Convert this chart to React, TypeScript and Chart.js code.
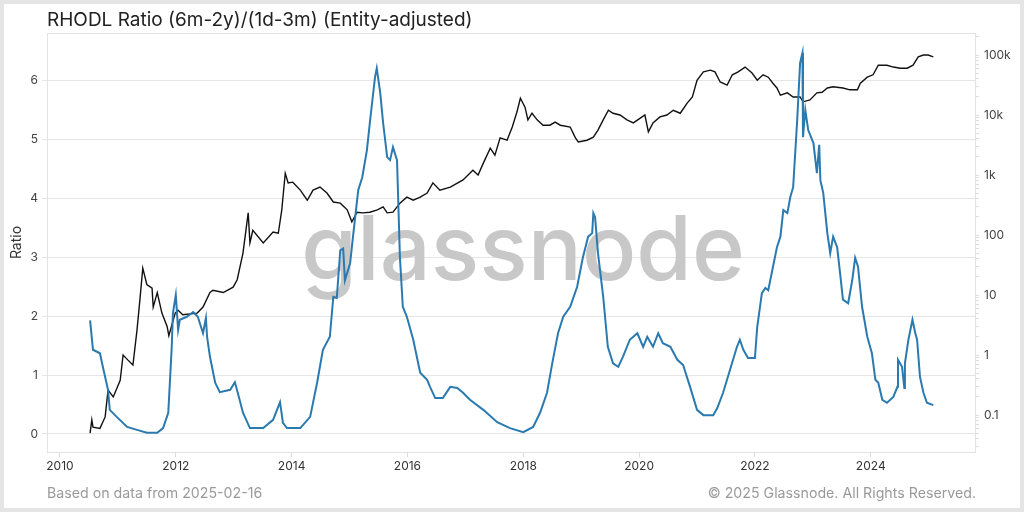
import { useEffect, useRef } from "react";
import { Chart, registerables } from "chart.js";
Chart.register(...registerables);

const chartTitle = "RHODL Ratio (6m-2y)/(1d-3m) (Entity-adjusted)";
const footerLeft = "Based on data from 2025-02-16";
const footerRight = "© 2025 Glassnode. All Rights Reserved.";
const watermark = "glassnode";

const yearTicks = [2010, 2012, 2014, 2016, 2018, 2020, 2022, 2024];
const ratioTicks = [0, 1, 2, 3, 4, 5, 6];
const priceTickValues = [0.1, 1, 10, 100, 1000, 10000, 100000];
const priceTickLabels = ["0.1", "1", "10", "100", "1k", "10k", "100k"];

const ratioYears = [
  2010.52, 2010.57, 2010.69, 2010.74, 2010.83, 2010.86, 2010.98, 2011.16, 2011.33, 2011.5,
  2011.68, 2011.78, 2011.87, 2011.93, 2011.95, 2012.0, 2012.04, 2012.07, 2012.19, 2012.3,
  2012.38, 2012.47, 2012.52, 2012.54, 2012.59, 2012.68, 2012.76, 2012.94, 2013.02, 2013.07,
  2013.16, 2013.28, 2013.51, 2013.68, 2013.8, 2013.85, 2013.92, 2014.15, 2014.32, 2014.44,
  2014.54, 2014.66, 2014.72, 2014.78, 2014.84, 2014.89, 2014.92, 2015.01, 2015.06, 2015.15,
  2015.22, 2015.3, 2015.35, 2015.44, 2015.47, 2015.53, 2015.58, 2015.65, 2015.7, 2015.75,
  2015.82, 2015.87, 2015.92, 2015.99, 2016.1, 2016.22, 2016.34, 2016.39, 2016.48, 2016.61,
  2016.74, 2016.86, 2016.96, 2017.08, 2017.31, 2017.55, 2017.77, 2018.0, 2018.17, 2018.29,
  2018.41, 2018.5, 2018.6, 2018.69, 2018.81, 2018.93, 2019.03, 2019.12, 2019.19, 2019.21,
  2019.24, 2019.29, 2019.38, 2019.46, 2019.55, 2019.64, 2019.72, 2019.84, 2019.97, 2020.07,
  2020.14, 2020.24, 2020.33, 2020.41, 2020.54, 2020.66, 2020.76, 2020.88, 2021.0, 2021.11,
  2021.28, 2021.35, 2021.45, 2021.57, 2021.69, 2021.74, 2021.8, 2021.88, 2022.0, 2022.04,
  2022.12, 2022.18, 2022.23, 2022.3, 2022.38, 2022.44, 2022.49, 2022.56, 2022.61, 2022.66,
  2022.73, 2022.78, 2022.82, 2022.83, 2022.87, 2022.92, 2023.01, 2023.07, 2023.11, 2023.13,
  2023.18, 2023.25, 2023.3, 2023.35, 2023.42, 2023.47, 2023.52, 2023.61, 2023.68, 2023.73,
  2023.78, 2023.85, 2023.94, 2024.02, 2024.08, 2024.13, 2024.2, 2024.28, 2024.39, 2024.46,
  2024.47, 2024.54, 2024.58, 2024.59, 2024.65, 2024.72, 2024.77, 2024.8, 2024.85, 2024.91,
  2024.97, 2025.08,
];
const ratioValues = [
  1.93, 1.43, 1.37, 1.14, 0.75, 0.41, 0.29, 0.12, 0.07, 0.02,
  0.02, 0.1, 0.36, 1.48, 2.05, 2.36, 1.77, 1.94, 1.99, 2.07,
  1.99, 1.71, 1.97, 1.65, 1.31, 0.87, 0.71, 0.75, 0.88, 0.7,
  0.36, 0.1, 0.1, 0.24, 0.54, 0.19, 0.1, 0.1, 0.29, 0.87,
  1.43, 1.65, 2.33, 2.31, 3.12, 3.15, 2.61, 2.9, 3.35, 4.14,
  4.36, 4.82, 5.28, 6.06, 6.21, 5.79, 5.28, 4.7, 4.65, 4.87,
  4.65, 3.0, 2.16, 1.99, 1.6, 1.04, 0.92, 0.8, 0.61, 0.61,
  0.8, 0.78, 0.7, 0.58, 0.41, 0.2, 0.1, 0.03, 0.12, 0.36,
  0.7, 1.2, 1.71, 1.99, 2.16, 2.5, 3.0, 3.35, 3.41, 3.75,
  3.68, 3.07, 2.33, 1.48, 1.2, 1.14, 1.31, 1.6, 1.71, 1.48,
  1.65, 1.48, 1.71, 1.54, 1.48, 1.26, 1.17, 0.8, 0.41, 0.32,
  0.32, 0.44, 0.7, 1.09, 1.48, 1.6, 1.43, 1.29, 1.29, 1.82,
  2.39, 2.48, 2.44, 2.78, 3.17, 3.35, 3.8, 3.75, 4.02, 4.19,
  5.33, 6.3, 6.47, 5.04, 5.5, 5.16, 4.94, 4.43, 4.91, 4.31,
  4.09, 3.41, 3.07, 3.35, 3.17, 2.73, 2.28, 2.22, 2.61, 2.99,
  2.84, 2.16, 1.65, 1.37, 0.92, 0.87, 0.58, 0.53, 0.63, 0.8,
  1.26, 1.14, 0.78, 1.2, 1.6, 1.94, 1.71, 1.6, 0.97, 0.7,
  0.53, 0.49,
];

const priceYears = [
  2010.52, 2010.55, 2010.57, 2010.69, 2010.78, 2010.83, 2010.92, 2011.04, 2011.09, 2011.17,
  2011.26, 2011.33, 2011.38, 2011.43, 2011.5, 2011.59, 2011.61, 2011.68, 2011.76, 2011.85,
  2011.88, 2011.99, 2012.04, 2012.12, 2012.37, 2012.47, 2012.59, 2012.64, 2012.82, 2012.99,
  2013.06, 2013.16, 2013.25, 2013.28, 2013.33, 2013.51, 2013.68, 2013.77, 2013.83, 2013.89,
  2013.94, 2014.02, 2014.15, 2014.27, 2014.37, 2014.49, 2014.61, 2014.72, 2014.84, 2014.96,
  2015.04, 2015.13, 2015.23, 2015.35, 2015.48, 2015.58, 2015.65, 2015.75, 2015.87, 2015.99,
  2016.1, 2016.22, 2016.34, 2016.44, 2016.56, 2016.74, 2016.96, 2017.13, 2017.22, 2017.31,
  2017.43, 2017.51, 2017.6, 2017.72, 2017.81, 2017.89, 2017.95, 2018.03, 2018.08, 2018.15,
  2018.24, 2018.34, 2018.46, 2018.55, 2018.64, 2018.81, 2018.9, 2018.95, 2019.1, 2019.21,
  2019.29, 2019.38, 2019.47, 2019.55, 2019.67, 2019.79, 2019.9, 2020.02, 2020.1, 2020.16,
  2020.24, 2020.36, 2020.48, 2020.59, 2020.71, 2020.83, 2020.92, 2021.0, 2021.11, 2021.23,
  2021.31, 2021.4, 2021.52, 2021.61, 2021.71, 2021.83, 2021.95, 2022.04, 2022.14, 2022.23,
  2022.31, 2022.38, 2022.44, 2022.56, 2022.66, 2022.78, 2022.83, 2022.95, 2023.07, 2023.16,
  2023.25, 2023.35, 2023.52, 2023.64, 2023.77, 2023.82, 2023.94, 2024.04, 2024.13, 2024.28,
  2024.39, 2024.51, 2024.63, 2024.73, 2024.82, 2024.91, 2024.99, 2025.08,
];
const priceValues = [
  0.05, 0.083, 0.063, 0.06, 0.093, 0.26, 0.2, 0.38, 1.0, 0.83,
  0.68, 2.6, 8.3, 28, 15, 13, 6.3, 11, 5.0, 3.0,
  2.1, 5.0, 5.6, 4.7, 5.0, 6.3, 11, 12, 11, 13.5,
  18, 50, 234, 74, 120, 74, 112, 107, 263, 1070,
  740, 760, 560, 380, 560, 630, 500, 355, 340, 263,
  166, 240, 234, 240, 263, 295, 234, 240, 340, 427,
  380, 427, 500, 740, 560, 630, 830, 1200, 1000, 1580,
  2800, 2140, 4170, 3800, 6300, 11200, 19000, 13500, 8300, 10700,
  8300, 6760, 6760, 7600, 6760, 6300, 4170, 3550, 3800, 4270,
  5600, 8300, 12000, 10700, 10000, 8300, 7400, 8900, 10000, 5250,
  7400, 9300, 10000, 12000, 10700, 15800, 20000, 38000, 52500, 56000,
  52500, 35500, 31600, 46800, 52500, 63000, 50000, 38000, 46800, 42700,
  33900, 28200, 21400, 23400, 20000, 20000, 16600, 17800, 23400, 24000,
  28200, 29500, 28200, 26300, 26300, 33900, 42700, 46800, 67600, 67600,
  63000, 60300, 60300, 67600, 93300, 100000, 100000, 93300,
];

const FONT = "Inter, 'Noto Sans', 'DejaVu Sans', sans-serif";

export default function App() {
  const ref = useRef<HTMLCanvasElement>(null);

  useEffect(() => {
    document.body.style.margin = "0";
    const canvas = ref.current;
    if (!canvas) return;

    const minorPriceTicks: number[] = [];
    for (let e = -2; e <= 5; e++) {
      for (let m = 1; m <= 9; m++) {
        const v = m * Math.pow(10, e);
        if (v >= 0.025 && v <= 230000) minorPriceTicks.push(v);
      }
    }

    const framePlugin = {
      id: "frameAndWatermark",
      beforeDatasetsDraw(chart: any) {
        const { ctx, chartArea } = chart;
        ctx.save();
        ctx.strokeStyle = "#e3e3e3";
        ctx.lineWidth = 1;
        ctx.strokeRect(
          Math.round(chartArea.left) + 0.5,
          Math.round(chartArea.top) + 0.5,
          Math.round(chartArea.right - chartArea.left),
          Math.round(chartArea.bottom - chartArea.top)
        );
        ctx.fillStyle = "#c8c8c8";
        ctx.font = "500 90px Inter, 'Noto Sans', sans-serif";
        ctx.textAlign = "center";
        ctx.textBaseline = "alphabetic";
        ctx.fillText(watermark, 523, 280);
        ctx.restore();
      },
    };

    const chart = new Chart(canvas, {
      type: "line",
      data: {
        datasets: [
          {
            label: "RHODL Ratio",
            data: ratioYears.map((x, i) => ({ x, y: ratioValues[i] })),
            yAxisID: "y",
            borderColor: "#2a7ab0",
            borderWidth: 2,
            pointRadius: 0,
            tension: 0,
            order: 1,
          },
          {
            label: "Price",
            data: priceYears.map((x, i) => ({ x, y: priceValues[i] })),
            yAxisID: "y1",
            borderColor: "#111111",
            borderWidth: 1.4,
            pointRadius: 0,
            tension: 0,
            order: 2,
          },
        ],
      },
      options: {
        responsive: false,
        animation: false,
        devicePixelRatio: 1,
        layout: { padding: { left: 0, right: 0, top: 33, bottom: 0 } },
        plugins: {
          legend: { display: false },
          tooltip: { enabled: false },
          title: { display: false },
        },
        scales: {
          x: {
            type: "linear",
            min: 2009.776,
            max: 2025.8,
            afterBuildTicks: (axis: any) => {
              axis.ticks = yearTicks.map((v) => ({ value: v }));
            },
            afterFit: (scale: any) => {
              scale.height = 60;
            },
            grid: {
              drawOnChartArea: false,
              drawTicks: true,
              tickLength: 5,
              color: "#d8d8d8",
            },
            border: { display: false },
            ticks: {
              autoSkip: false,
              maxRotation: 0,
              padding: 2,
              color: "#333333",
              font: { family: FONT, size: 12 },
              callback: (v: any) => String(v),
            },
          },
          y: {
            type: "linear",
            position: "left",
            min: -0.306,
            max: 6.808,
            afterBuildTicks: (axis: any) => {
              axis.ticks = ratioTicks.map((v) => ({ value: v }));
            },
            afterFit: (scale: any) => {
              scale.width = 47;
            },
            grid: {
              color: "#e6e6e6",
              tickLength: 5,
            },
            border: { display: false },
            title: {
              display: true,
              text: "Ratio",
              color: "#333333",
              font: { family: FONT, size: 14 },
              padding: { top: 8, bottom: 0 },
            },
            ticks: {
              padding: 4,
              color: "#444444",
              font: { family: FONT, size: 12 },
              callback: (v: any) => String(v),
            },
          },
          y1: {
            type: "logarithmic",
            position: "right",
            min: 0.0242,
            max: 232800,
            afterBuildTicks: (axis: any) => {
              axis.ticks = minorPriceTicks.map((v) => ({ value: v }));
            },
            afterFit: (scale: any) => {
              scale.width = 49;
            },
            grid: {
              drawOnChartArea: false,
              tickLength: 4,
              color: "#dddddd",
            },
            border: { display: false },
            ticks: {
              autoSkip: false,
              padding: 5,
              color: "#444444",
              font: { family: FONT, size: 12 },
              callback: (v: any) => {
                const idx = priceTickValues.findIndex(
                  (p) => Math.abs(p - v) / p < 1e-6
                );
                return idx >= 0 ? priceTickLabels[idx] : "";
              },
            },
          },
        },
      },
      plugins: [framePlugin],
    } as any);

    return () => chart.destroy();
  }, []);

  return (
    <div
      style={{
        position: "relative",
        width: 1024,
        height: 512,
        background: "#e4e4e4",
        overflow: "hidden",
        fontFamily: FONT,
      }}
    >
      <div
        style={{
          position: "absolute",
          left: 4,
          top: 4,
          right: 4,
          bottom: 4,
          background: "#ffffff",
        }}
      />
      <canvas
        ref={ref}
        width={1024}
        height={512}
        style={{ position: "absolute", left: 0, top: 0, width: 1024, height: 512 }}
      />
      <div
        style={{
          position: "absolute",
          left: 47,
          top: 9,
          fontSize: 19,
          color: "#222222",
          whiteSpace: "nowrap",
          lineHeight: "22px",
        }}
      >
        {chartTitle}
      </div>
      <div
        style={{
          position: "absolute",
          left: 47,
          top: 484,
          fontSize: 14.2,
          color: "#9a9a9a",
          whiteSpace: "nowrap",
          lineHeight: "18px",
        }}
      >
        {footerLeft}
      </div>
      <div
        style={{
          position: "absolute",
          right: 48,
          top: 484,
          fontSize: 14.2,
          color: "#9a9a9a",
          whiteSpace: "nowrap",
          lineHeight: "18px",
        }}
      >
        {footerRight}
      </div>
    </div>
  );
}
